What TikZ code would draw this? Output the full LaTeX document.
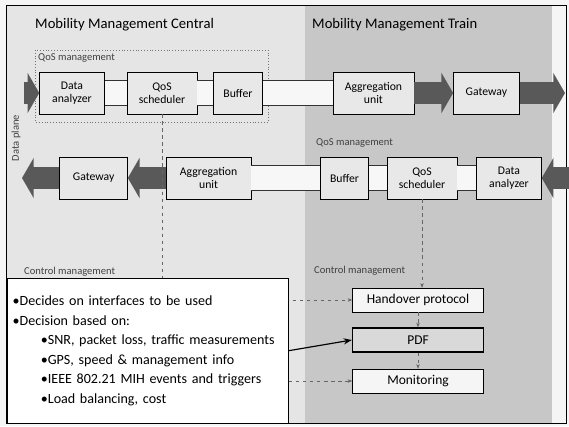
\documentclass[tikz,border=0pt]{standalone}
\usepackage{fontspec}
\setmainfont{Carlito}
\usetikzlibrary{arrows.meta,positioning}

\tikzset{
  unitbox/.style={draw, fill=gray!18, minimum height=1.26cm, align=center, inner sep=1pt,
    font=\fontsize{10}{11}\selectfont},
  ctrlbox/.style={draw, fill=gray!8, minimum width=3.93cm, minimum height=0.72cm,
    font=\fontsize{11.5}{13}\selectfont},
  fatarrow/.style={line width=18pt, black!65, -{Triangle[length=10pt,width=34pt]}},
  hollowarrow/.style={draw=black!80, line width=0.8pt, double=gray!6, double distance=20pt},
  ctrlline/.style={dashed, black!60, -{Stealth[length=4pt]}},
  grouplabel/.style={font=\fontsize{9}{10}\selectfont, text=black!75, anchor=west, inner sep=0pt},
  paneltitle/.style={font=\fontsize{12.5}{14}\selectfont, anchor=west, inner sep=0pt},
}

\begin{document}
\begin{tikzpicture}[x=0.03cm, y=-0.03cm]
\useasboundingbox (0,0) rectangle (569,426);
% panels
\fill[gray!8] (0,0) rectangle (569,426);
\fill[gray!20] (6,5) rectangle (305,423);
\fill[gray!44] (305,5) rectangle (552,423);
\draw[line width=0.8pt] (6,5) rectangle (566,423);

\node[paneltitle] (central) at (35,25) {Mobility Management Central};
\node[paneltitle] (train) at (312,25) {Mobility Management Train};

\node[grouplabel] (qoslabelc) at (38,58) {QoS management};
\node[grouplabel] (qoslabelt) at (316,143) {QoS management};
\node[grouplabel] (ctrllabelc) at (24,272) {Control management};
\node[grouplabel] (ctrllabelt) at (314,271) {Control management};
\node[grouplabel, anchor=center, rotate=90] (plane) at (16,138) {Data plane};
\draw[dotted, black!55] (35,50) rectangle (268,122);

% data plane, central to train
\node[unitbox, minimum width=1.95cm] (shapert) at (72,93) {Data\\analyzer};
\node[unitbox, minimum width=2.1cm, right=0.66cm of shapert] (qost) {QoS\\scheduler};
\node[unitbox, minimum width=1.47cm, right=0.48cm of qost] (buffert) {Buffer};
\node[unitbox, minimum width=2.43cm, right=2.1cm of buffert] (aggt) {Aggregation\\unit};
\node[unitbox, minimum width=1.98cm, right=1.17cm of aggt] (gatewayt) {Gateway};
\coordinate (int) at (24,93);
\coordinate (outt) at (565,93);

\draw[fatarrow] (int) -- (shapert);
\draw[hollowarrow] (shapert) -- (qost);
\draw[hollowarrow] (qost) -- (buffert);
\draw[hollowarrow] (buffert) -- (aggt);
\draw[fatarrow] (aggt) -- (gatewayt);
\draw[fatarrow] (gatewayt) -- (outt);

% data plane, train to central
\node[unitbox, minimum width=1.95cm] (shaperb) at (509,178) {Data\\analyzer};
\node[unitbox, minimum width=2.1cm, left=0.57cm of shaperb] (qosb) {QoS\\scheduler};
\node[unitbox, minimum width=1.44cm, left=0.54cm of qosb] (bufferb) {Buffer};
\node[unitbox, minimum width=2.55cm, left=2.07cm of bufferb] (aggb) {Aggregation\\unit};
\node[unitbox, minimum width=2.04cm, left=1.14cm of aggb] (gatewayb) {Gateway};
\coordinate (inb) at (569,178);
\coordinate (outb) at (22,178);

\draw[fatarrow] (inb) -- (shaperb);
\draw[hollowarrow] (shaperb) -- (qosb);
\draw[hollowarrow] (qosb) -- (bufferb);
\draw[hollowarrow] (bufferb) -- (aggb);
\draw[fatarrow] (aggb) -- (gatewayb);
\draw[fatarrow] (gatewayb) -- (outb);

% control
\node[ctrlbox] (handover) at (418,300) {Handover protocol};
\node[ctrlbox, line width=1.2pt, fill=gray!30] (pdf) at (418,340) {PDF};
\node[ctrlbox] (monitor) at (418,381) {Monitoring};

\draw[ctrlline] (qost.south) |- (handover.west);
\draw[ctrlline] (qost.south) |- (monitor.west);
\draw[ctrlline] (qosb.south) -- (qosb.south |- handover.north);
\draw[ctrlline] (handover) -- (pdf);
\draw[ctrlline] (pdf) -- (monitor);

\node[draw, fill=white, anchor=north west, minimum width=8.43cm, minimum height=4.35cm,
  text width=8.1cm, align=left, font=\fontsize{12}{16.7}\selectfont] (decision) at (7,278)
  {•Decides on interfaces to be used\\
   •Decision based on:\\
   \hspace*{24pt}•SNR, packet loss, traffic measurements\\
   \hspace*{24pt}•GPS, speed \& management info\\
   \hspace*{24pt}•IEEE 802.21 MIH events and triggers\\
   \hspace*{24pt}•Load balancing, cost};

\draw[line width=1pt, -{Stealth[length=7pt]}] (decision.east) -- (pdf.west);
\end{tikzpicture}
\end{document}
